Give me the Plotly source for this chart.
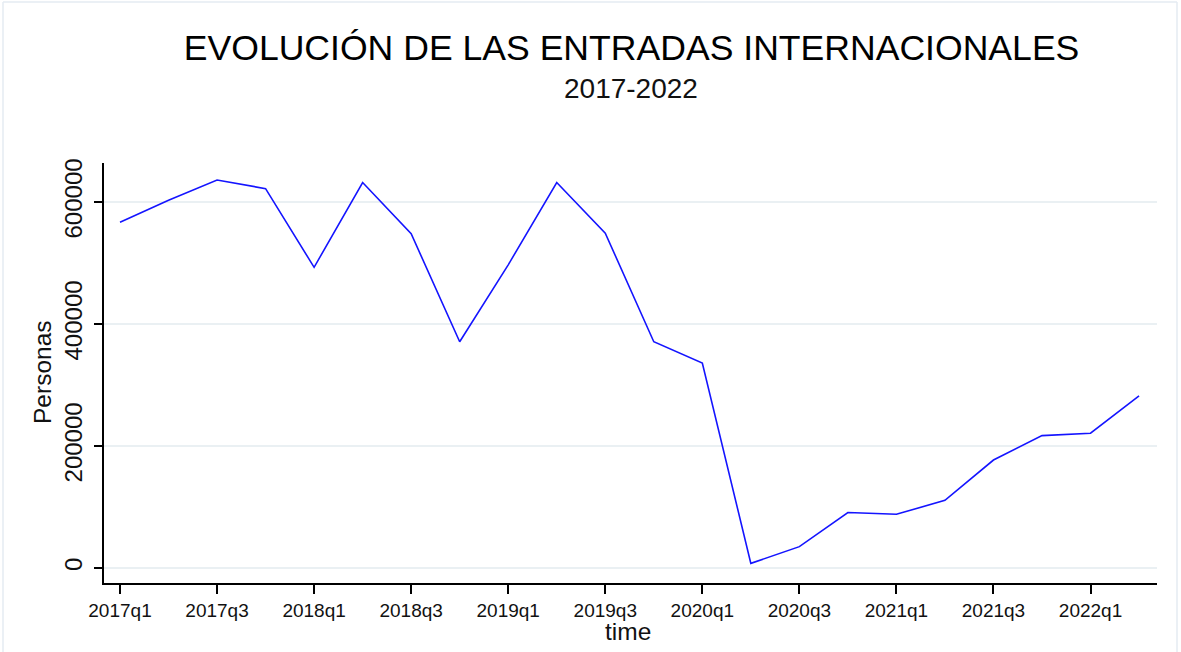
import plotly.graph_objects as go

quarters = ["2017q1", "2017q2", "2017q3", "2017q4",
            "2018q1", "2018q2", "2018q3", "2018q4",
            "2019q1", "2019q2", "2019q3", "2019q4",
            "2020q1", "2020q2", "2020q3", "2020q4",
            "2021q1", "2021q2", "2021q3", "2021q4",
            "2022q1", "2022q2"]
personas = [567000, 603000, 636000, 622000,
            493000, 632000, 548000, 371000,
            497000, 632000, 549000, 371000,
            336000, 7600, 35000, 91000,
            88000, 111000, 177000, 217000,
            221000, 282000]
x_idx = list(range(len(quarters)))
tick_idx = x_idx[::2]
tick_text = quarters[::2]
y_ticks = [0, 200000, 400000, 600000]

W, H = 1181, 652
L, R, T, B = 104, 24, 163, 69
PW, PH = W - L - R, H - T - B


def px_x(x):
    return (x - L) / PW


def px_y(y):
    return (H - B - y) / PH


fig = go.Figure()
fig.add_trace(go.Scatter(
    x=x_idx, y=personas, mode="lines",
    line=dict(color="#1414ff", width=1.6),
    hoverinfo="x+y", showlegend=False,
))

font_family = "Liberation Sans, Arial, sans-serif"
txt = "#111111"

fig.update_layout(
    width=W, height=H,
    margin=dict(l=L, r=R, t=T, b=B, autoexpand=False),
    paper_bgcolor="white", plot_bgcolor="white",
    font=dict(family=font_family, color=txt),
    title=dict(
        text="EVOLUCIÓN DE LAS ENTRADAS INTERNACIONALES",
        x=0.501, xref="paper", xanchor="center",
        y=1 - 48 / H, yref="container", yanchor="middle",
        font=dict(size=35.6, color="#000000", family=font_family),
    ),
    xaxis=dict(
        range=[-0.33, 21.37],
        tickmode="array", tickvals=tick_idx, ticktext=tick_text,
        ticks="outside", ticklen=9, tickwidth=1.5, tickcolor="#000000",
        showline=True, linecolor="#000000", linewidth=1.5,
        showgrid=False, zeroline=False,
        tickfont=dict(size=19, color=txt),
    ),
    yaxis=dict(
        range=[-24600, 664000],
        tickmode="array", tickvals=y_ticks, ticktext=[str(v) for v in y_ticks],
        tickangle=-90,
        ticks="outside", ticklen=8, tickwidth=1.5, tickcolor="#000000",
        showline=True, linecolor="#000000", linewidth=1.5,
        showgrid=True, gridcolor="#eaf0f3", gridwidth=1.5, zeroline=False,
        tickfont=dict(size=24, color=txt),
        ticklabelstandoff=3,
    ),
    annotations=[
        dict(text="2017-2022", x=0.5, xref="paper", xanchor="center",
             y=px_y(89), yref="paper", yanchor="middle",
             showarrow=False, font=dict(size=28, color=txt, family=font_family)),
        dict(text="Personas", x=px_x(42), xref="paper", xanchor="center",
             y=px_y(372), yref="paper", yanchor="middle", textangle=-90,
             showarrow=False, font=dict(size=24.5, color=txt, family=font_family)),
        dict(text="time", x=px_x(628), xref="paper", xanchor="center",
             y=px_y(631), yref="paper", yanchor="middle",
             showarrow=False, font=dict(size=24.5, color=txt, family=font_family)),
    ],
    shapes=[
        dict(type="line", xref="paper", yref="paper",
             x0=px_x(3), x1=px_x(3), y0=px_y(2), y1=px_y(652),
             line=dict(color="#e4ebf2", width=1.5)),
        dict(type="line", xref="paper", yref="paper",
             x0=px_x(3), x1=px_x(1177), y0=px_y(2), y1=px_y(2),
             line=dict(color="#e4ebf2", width=1.5)),
        dict(type="line", xref="paper", yref="paper",
             x0=px_x(1177), x1=px_x(1177), y0=px_y(2), y1=px_y(652),
             line=dict(color="#e4ebf2", width=1.5)),
    ],
)

fig.write_html("out.html", config={"displayModeBar": False},
               post_script="document.body.style.margin='0';")
